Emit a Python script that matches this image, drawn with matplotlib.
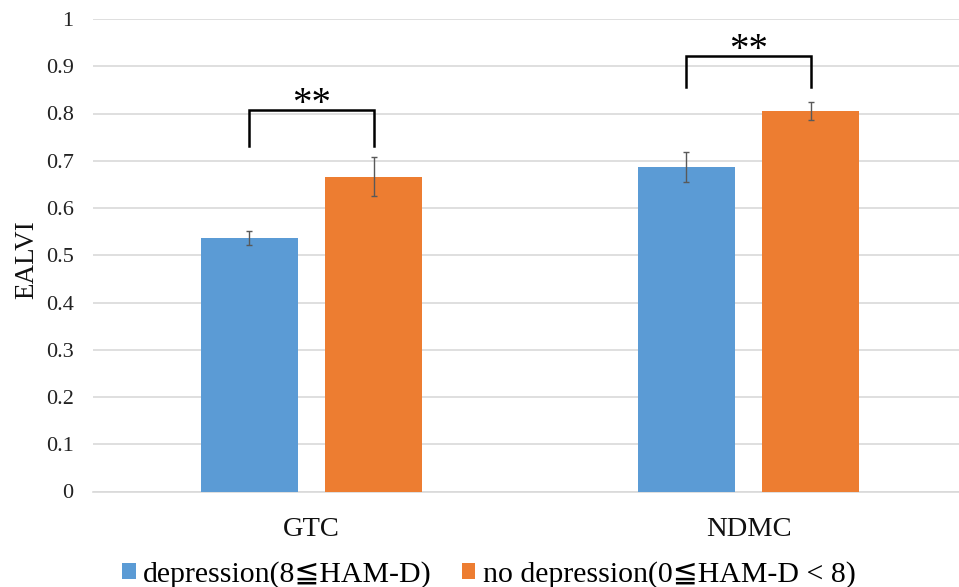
import numpy as np
import matplotlib
matplotlib.use("Agg")
import matplotlib.pyplot as plt
from matplotlib.font_manager import FontProperties

# values
categories = ["GTC", "NDMC"]
depression = [0.537, 0.687]
depression_err = [0.015, 0.032]
no_depression = [0.666, 0.805]
no_depression_err = [0.041, 0.019]
labels = ["depression(8\u2266HAM-D)", "no depression(0\u2266HAM-D < 8)"]
yticks = [0, 0.1, 0.2, 0.3, 0.4, 0.5, 0.6, 0.7, 0.8, 0.9, 1]

# significance brackets: (bottom, top) levels
brackets = [(0.731, 0.807), (0.856, 0.922)]

fonts = ["Liberation Serif", "DejaVu Serif", "DejaVu Sans"]
plt.rcParams["font.family"] = fonts

blue = "#5B9BD5"
orange = "#ED7D31"
grid = "#D9D9D9"

fig = plt.figure(figsize=(9.59, 5.87), dpi=100)
ax = fig.add_axes([93 / 959, 1 - 491.5 / 587, 874 / 959, 472.5 / 587])

x = np.arange(len(categories))
w = 0.222
off = 0.142
ekw = dict(ecolor="#595959", elinewidth=1.0, capthick=1.0, capsize=2.5)
ax.bar(x - off, depression, w, color=blue, yerr=depression_err,
       error_kw=ekw, label=labels[0], zorder=3)
ax.bar(x + off, no_depression, w, color=orange, yerr=no_depression_err,
       error_kw=ekw, label=labels[1], zorder=3)

for i, (lo, hi) in enumerate(brackets):
    ax.plot([x[i] - off, x[i] - off, x[i] + off, x[i] + off],
            [lo, hi, hi, lo], color="black", lw=1.8, zorder=4,
            solid_joinstyle="miter")
    ax.text(x[i], hi + 0.012, "**", ha="center", va="center",
            fontsize=28, family=fonts)

ax.set_xlim(-0.5, 1.5)
ax.set_ylim(0, 1)
ax.set_yticks(yticks)
ax.set_yticklabels([f"{t:g}" for t in yticks])
ax.set_xticks(x)
ax.set_xticklabels(categories)
ax.yaxis.grid(True, color=grid, lw=1.2, zorder=0)
ax.set_axisbelow(True)
for s in ["top", "right", "left"]:
    ax.spines[s].set_visible(False)
ax.spines["bottom"].set_color(grid)
ax.spines["bottom"].set_linewidth(1.2)
ax.spines["bottom"].set_zorder(1)
ax.tick_params(axis="y", length=0, pad=14, labelsize=16, colors="#222222")
ax.tick_params(axis="x", length=0, pad=18, labelsize=20.5, colors="#111111")
ax.set_ylabel("EALVI", fontsize=19.5, color="#111111")
ax.yaxis.set_label_coords(-0.062, 0.49)

fig.legend(loc="center", bbox_to_anchor=(0.51, 0.022), ncol=2, frameon=False,
           prop=FontProperties(family=fonts, size=21.5), handlelength=0.45,
           handleheight=0.45, handletextpad=0.25, columnspacing=1.0,
           borderpad=0)

fig.savefig("out.png", dpi=100)
